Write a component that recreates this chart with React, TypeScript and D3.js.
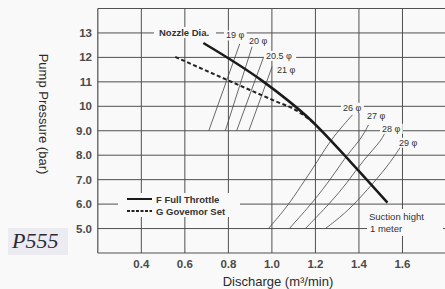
import React from "react";
import * as d3 from "d3";

// ---- data ----
const xTicks = [0.4, 0.6, 0.8, 1.0, 1.2, 1.4, 1.6];
const xTickLabels = ["0.4", "0.6", "0.8", "1.0", "1.2", "1.4", "1.6"];
const yTicks = [13, 12, 11, 10, 9, 8, 7, 6, 5];
const yTickLabels = ["13", "12", "11", "10", "9.0", "8.0", "7.0", "6.0", "5.0"];

// F Full Throttle
const fullQ = [0.685, 0.956, 1.177, 1.361, 1.531];
const fullP = [12.59, 11.04, 9.45, 7.73, 6.06];
// G Governor Set
const govQ = [0.556, 0.7, 0.85, 1.0, 1.12, 1.2];
const govP = [12.02, 11.45, 10.86, 10.27, 9.79, 9.27];

// Nozzle diameter lines
const nozzleNames = ["19 φ", "20 φ", "20.5 φ", "21 φ", "26 φ", "27 φ", "28 φ", "29 φ"];
const nozzleQ = [
  [0.71, 0.852],
  [0.786, 0.909],
  [0.838, 0.96],
  [0.894, 1.001],
  [0.984, 1.071, 1.131, 1.2, 1.269, 1.37],
  [1.08, 1.191, 1.278, 1.352, 1.407, 1.444],
  [1.154, 1.269, 1.347, 1.421, 1.508, 1.526],
  [1.246, 1.347, 1.439, 1.531, 1.595],
];
const nozzleP = [
  [9.0, 12.55],
  [9.0, 12.44],
  [9.0, 11.97],
  [9.0, 11.62],
  [5.0, 5.9, 6.71, 7.61, 8.63, 9.65],
  [5.0, 6.1, 7.12, 8.1, 8.63, 9.24],
  [5.0, 6.06, 6.88, 7.82, 8.63, 9.08],
  [5.0, 5.69, 6.59, 7.53, 8.39],
];
// label anchors (start, baseline) in data units
const nozzleLabelQ = [0.789, 0.895, 0.973, 1.023, 1.327, 1.437, 1.506, 1.584];
const nozzleLabelP = [12.776, 12.531, 11.939, 11.347, 9.816, 9.49, 8.959, 8.388];

const W = 445;
const H = 289;
const FONT = "'Liberation Sans', Arial, sans-serif";
const BG = "#f9f9f9";
const GRID = "#505050";
const INK = "#2b2b2b";

export default function App() {
  const x = d3.scaleLinear().domain([0.2, 1.8]).range([97.8, 446]);
  const y = d3.scaleLinear().domain([4, 14]).range([253, 8.5]);

  const smooth = d3
    .line<[number, number]>()
    .x((d) => x(d[0]))
    .y((d) => y(d[1]))
    .curve(d3.curveMonotoneX);

  const basis = d3
    .line<[number, number]>()
    .x((d) => x(d[0]))
    .y((d) => y(d[1]))
    .curve(d3.curveBasis);

  const zip = (a: number[], b: number[]) => a.map((v, i) => [v, b[i]] as [number, number]);

  const tw = (s: string, fs: number) => s.length * fs * 0.52;

  return (
    <div style={{ position: "fixed", left: 0, top: 0, width: W, height: H }}>
      <svg width={W} height={H} style={{ display: "block" }} fontFamily={FONT}>
        <rect x={0} y={0} width={W} height={H} fill={BG} />
        {/* P555 badge */}
        <rect x={8} y={228} width={60} height={27} fill="#ebebf1" />
        <text x={12} y={248} fontFamily="'Liberation Serif', 'DejaVu Serif', serif" fontStyle="italic" fontSize={22} fill="#2a2a36">
          P555
        </text>

        {/* grid */}
        {yTicks.map((t) => (
          <line key={"gy" + t} x1={x(0.2)} x2={W} y1={y(t)} y2={y(t)} stroke={GRID} strokeWidth={1} />
        ))}
        {xTicks.map((t) => (
          <line key={"gx" + t} x1={x(t)} x2={x(t)} y1={y(14)} y2={y(4)} stroke={GRID} strokeWidth={1} />
        ))}
        {/* frame */}
        <line x1={x(0.2)} x2={x(0.2)} y1={y(14)} y2={y(4)} stroke={GRID} strokeWidth={1.2} />
        <line x1={x(0.2)} x2={W} y1={y(14)} y2={y(14)} stroke={GRID} strokeWidth={1.2} />
        <line x1={x(0.2)} x2={W} y1={y(4)} y2={y(4)} stroke={GRID} strokeWidth={1.2} />

        {/* tick labels */}
        {yTicks.map((t, i) => (
          <text key={"ty" + t} x={92} y={y(t) + 4} textAnchor="end" fontSize={11.5} fontWeight="bold" fill="#4a4a4a">
            {yTickLabels[i]}
          </text>
        ))}
        {xTicks.map((t, i) => (
          <text key={"tx" + t} x={x(t)} y={268} textAnchor="middle" fontSize={11.5} fontWeight="bold" fill="#4a4a4a">
            {xTickLabels[i]}
          </text>
        ))}

        {/* axis titles */}
        <text x={278} y={286} textAnchor="middle" fontSize={13} fill={INK}>
          Discharge (m³/min)
        </text>
        <text transform={`translate(39,114) rotate(90)`} textAnchor="middle" fontSize={13} fill={INK}>
          Pump Pressure (bar)
        </text>

        {/* nozzle lines */}
        {nozzleQ.map((qs, i) => (
          <path key={"nz" + i} d={basis(zip(qs, nozzleP[i])) || ""} fill="none" stroke="#444" strokeWidth={0.8} />
        ))}

        {/* curves */}
        <path d={smooth(zip(govQ, govP)) || ""} fill="none" stroke="#222" strokeWidth={2} strokeDasharray="4 2.5" />
        <path d={smooth(zip(fullQ, fullP)) || ""} fill="none" stroke="#1a1a1a" strokeWidth={2.5} />

        {/* labels with paper-coloured backgrounds */}
        <rect x={154} y={27} width={62} height={11} fill={BG} />
        <text x={159} y={36} fontSize={9.5} fontWeight="bold" fill="#333">
          Nozzle Dia.
        </text>
        {nozzleNames.map((n, i) => {
          const lx = x(nozzleLabelQ[i]);
          const ly = y(nozzleLabelP[i]);
          return (
            <g key={"nl" + i}>
              <rect x={lx - 2} y={ly - 8} width={tw(n, 9) + 4} height={10} fill={BG} />
              <text x={lx} y={ly} fontSize={9} fill="#333">
                {n}
              </text>
            </g>
          );
        })}

        {/* legend */}
        <rect x={118} y={193} width={122} height={24} fill={BG} />
        <line x1={127} x2={152} y1={199} y2={199} stroke="#1a1a1a" strokeWidth={2} />
        <line x1={127} x2={152} y1={211} y2={211} stroke="#222" strokeWidth={1.8} strokeDasharray="3 1.5" />
        <text x={156} y={202.5} fontSize={9.5} fontWeight="bold" fill="#333">
          F Full Throttle
        </text>
        <text x={156} y={214.5} fontSize={9.5} fontWeight="bold" fill="#333">
          G Govemor Set
        </text>

        {/* suction note */}
        <rect x={367} y={209} width={76} height={27} fill={BG} />
        <text x={369} y={220} fontSize={9.5} fill="#333">
          Suction hight
        </text>
        <text x={370} y={232} fontSize={9.5} fill="#333">
          1 meter
        </text>
      </svg>
    </div>
  );
}
